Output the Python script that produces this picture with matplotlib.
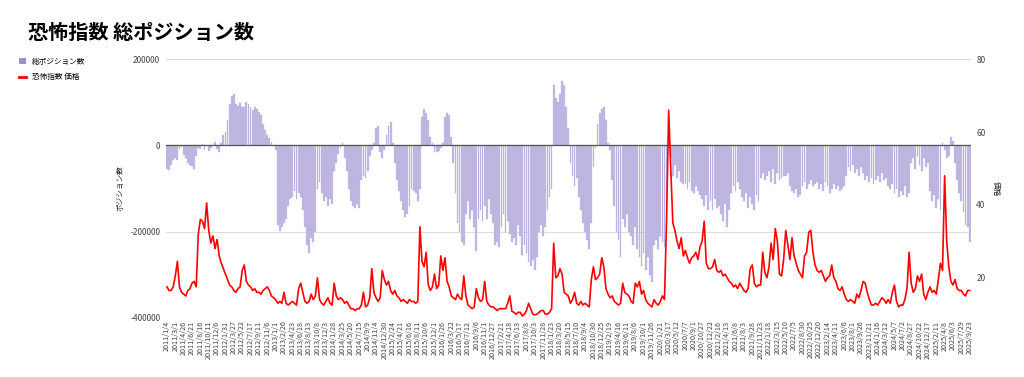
import matplotlib
matplotlib.use("Agg")  # No display
import matplotlib.pyplot as plt  # For plotting
from matplotlib.patches import Patch  # Legend square
from matplotlib.lines import Line2D  # Legend line
import numpy as np  # For positions

plt.rcParams["font.family"] = ["Noto Sans CJK JP", "DejaVu Sans"]  # Japanese text

# Bi-weekly samples, 2011/1/4 .. 2025/9/23 (4 samples per 8-week tick interval)
position_k = [  # 総ポジション数, in thousands of contracts
    -55, -57, -45, -33, -30, -35, -8, -3, -22, -30, -40, -45, -48, -54, -25, -5,
    -8, 3, -10, 2, -12, -5, 2, 8, -8, -15, 5, 25, 30, 60, 95, 115,
    120, 95, 92, 98, 90, 88, 100, 95, 88, 82, 90, 85, 78, 70, 50, 35,
    25, 18, 8, 2, -10, -185, -199, -190, -180, -170, -140, -125, -120, -105, -125, -110,
    -120, -150, -190, -230, -250, -215, -225, -200, -100, -85, -110, -130, -120, -140, -125, -135,
    -60, -40, -20, -5, 5, -30, -60, -100, -130, -140, -145, -135, -145, -80, -70, -75,
    -60, -25, -10, 5, 40, 45, -15, -30, -10, 25, 45, 55, 5, -40, -80, -105,
    -130, -150, -165, -160, -140, -100, -105, -110, -130, -100, 65, 84, 75, 60, 20, 5,
    -15, -15, -12, -5, 5, 65, 75, 70, 20, -40, -110, -180, -200, -225, -230, -160,
    -130, -170, -150, -190, -245, -170, -150, -175, -140, -170, -125, -160, -180, -230, -225, -235,
    -190, -160, -200, -175, -205, -225, -215, -230, -185, -210, -255, -230, -250, -270, -280, -265,
    -290, -260, -200, -185, -210, -190, -150, -120, -100, 140, 110, 100, 120, 150, 140, 90,
    40, -40, -70, -95, -75, -120, -150, -180, -200, -220, -240, -180, -50, -5, 50, 75,
    85, 90, 60, 5, -10, -80, -140, -200, -220, -260, -170, -190, -160, -200, -210, -230,
    -190, -240, -260, -280, -250, -290, -260, -300, -318, -230, -220, -240, -210, -225, -235, -150,
    -5, -30, -70, -45, -75, -60, -85, -90, -90, -100, -85, -105, -110, -95, -105, -115,
    -125, -140, -115, -150, -130, -150, -125, -145, -140, -160, -175, -135, -190, -150, -110, -95,
    -105, -85, -100, -120, -130, -110, -145, -120, -135, -150, -115, -130, -75, -65, -80, -70,
    -60, -85, -55, -90, -65, -80, -75, -70, -70, -65, -95, -105, -110, -100, -120, -115,
    -95, -85, -100, -90, -80, -95, -90, -85, -100, -90, -105, -85, -95, -110, -100, -90,
    -100, -95, -105, -100, -95, -70, -50, -60, -45, -65, -55, -70, -50, -65, -80, -70,
    -85, -75, -90, -80, -70, -85, -65, -80, -75, -95, -100, -90, -110, -100, -120, -105,
    -115, -95, -120, -110, -40, -30, -55, -25, -45, -60, -30, -50, -40, -105, -130, -115,
    -145, -125, -150, 5, -10, -30, -25, 20, 10, -40, -80, -110, -130, -155, -185, -190,
    -225,
]

vix_price = [  # 恐怖指数 価格
    17.5, 16.5, 16.5, 17.5, 20.5, 24.5, 17.5, 16.0, 15.5, 15.0, 16.5, 17.0, 18.5, 19.0, 17.5, 32.0,
    36.0, 35.5, 33.5, 40.5, 33.0, 29.5, 31.5, 28.0, 30.5, 26.0, 24.0, 22.5, 21.0, 19.5, 18.0, 17.5,
    16.5, 16.0, 17.0, 17.5, 22.0, 23.5, 19.0, 18.0, 17.5, 16.5, 17.0, 16.0, 16.0, 15.5, 16.5, 17.0,
    17.5, 16.5, 15.0, 14.5, 14.0, 13.0, 13.5, 13.0, 16.0, 13.0, 12.5, 13.0, 13.5, 13.0, 12.5, 17.0,
    18.5, 16.0, 13.5, 13.0, 13.5, 15.5, 14.0, 15.0, 20.0, 14.0, 13.0, 12.5, 13.5, 14.5, 13.0, 12.5,
    18.5, 15.0, 14.0, 14.5, 14.0, 13.0, 13.5, 12.5, 11.5, 11.5, 11.0, 11.5, 11.5, 12.5, 16.0, 12.0,
    12.5, 14.5, 22.5, 16.0, 14.5, 13.5, 14.5, 22.0, 19.5, 18.0, 19.0, 16.5, 15.5, 16.5, 15.0, 14.5,
    13.5, 14.0, 13.5, 13.0, 14.0, 13.5, 13.5, 13.0, 13.5, 34.0, 24.5, 23.0, 27.0, 18.0, 16.5, 17.5,
    21.0, 17.0, 18.0, 26.0, 22.0, 25.5, 19.0, 17.5, 15.0, 14.5, 14.0, 15.5, 14.5, 14.0, 20.5, 15.0,
    12.5, 12.0, 11.5, 12.0, 17.0, 14.5, 13.5, 14.0, 19.0, 13.5, 12.5, 12.0, 12.0, 11.5, 11.0, 11.5,
    11.5, 11.5, 11.5, 13.0, 15.0, 10.8, 10.5, 10.0, 10.5, 10.5, 9.5, 10.0, 11.0, 13.0, 11.5, 10.0,
    9.8, 10.0, 10.5, 11.0, 11.0, 10.0, 10.0, 10.5, 11.5, 29.5, 20.0, 20.5, 22.5, 21.0, 16.0, 15.5,
    15.0, 13.0, 14.0, 16.0, 13.0, 12.5, 13.5, 12.5, 13.0, 12.5, 12.0, 19.5, 23.0, 19.5, 20.0, 21.0,
    25.5, 23.0, 17.0, 15.5, 14.5, 15.0, 13.5, 13.0, 12.5, 13.0, 18.5, 16.0, 15.5, 15.0, 13.5, 13.0,
    18.5, 17.5, 19.0, 15.5, 16.5, 14.0, 13.0, 12.5, 12.0, 14.0, 13.0, 12.5, 13.5, 15.0, 14.0, 36.0,
    66.0, 50.0, 35.0, 33.0, 30.0, 28.0, 31.0, 26.0, 27.5, 25.5, 24.0, 25.5, 26.0, 27.0, 25.0, 28.5,
    30.0, 35.5, 24.0, 22.5, 22.5, 23.0, 25.0, 22.0, 21.5, 22.0, 20.5, 21.0, 20.0, 19.0, 18.5, 17.5,
    18.0, 17.0, 18.5, 17.5, 16.5, 16.0, 17.0, 22.5, 23.5, 18.5, 17.5, 18.0, 18.0, 27.0, 21.5, 20.0,
    23.0, 29.5, 25.0, 33.5, 30.0, 21.0, 20.5, 25.0, 33.0, 29.0, 25.0, 31.0, 26.0, 24.0, 22.0, 21.0,
    20.0, 26.0, 27.0, 32.5, 33.0, 27.0, 23.5, 22.0, 21.5, 22.0, 20.5, 19.0, 20.0, 20.5, 23.5, 20.0,
    19.0, 17.0, 16.5, 17.5, 15.5, 14.0, 13.5, 14.0, 13.5, 13.0, 15.5, 14.5, 16.5, 19.0, 18.5, 16.0,
    14.0, 12.5, 12.5, 13.0, 12.5, 13.5, 14.5, 14.0, 13.0, 14.0, 13.0, 16.0, 18.0, 13.5, 12.0, 12.5,
    12.5, 14.0, 17.0, 27.0, 18.5, 16.0, 17.0, 20.5, 19.0, 21.0, 15.5, 14.0, 16.0, 17.5, 16.0, 16.5,
    15.5, 19.5, 24.0, 22.0, 48.0, 30.0, 23.0, 19.0, 18.0, 19.5, 17.0, 16.5, 16.5, 15.5, 15.0, 16.5,
    16.5,
]

tick_labels = [
    "2011/1/4", "2011/3/1", "2011/4/26", "2011/6/21", "2011/8/16", "2011/10/11", "2011/12/6",
    "2012/1/31", "2012/3/27", "2012/5/22", "2012/7/17", "2012/9/11", "2012/11/6", "2013/1/1",
    "2013/2/26", "2013/4/23", "2013/6/18", "2013/8/13", "2013/10/8", "2013/12/3", "2014/1/28",
    "2014/3/25", "2014/5/20", "2014/7/15", "2014/9/9", "2014/11/4", "2014/12/30", "2015/2/24",
    "2015/4/21", "2015/6/16", "2015/8/11", "2015/10/6", "2015/12/1", "2016/1/26", "2016/3/22",
    "2016/5/17", "2016/7/12", "2016/9/6", "2016/11/1", "2016/12/27", "2017/2/21", "2017/4/18",
    "2017/6/13", "2017/8/8", "2017/10/3", "2017/11/28", "2018/1/23", "2018/3/20", "2018/5/15",
    "2018/7/10", "2018/9/4", "2018/10/30", "2018/12/25", "2019/2/19", "2019/4/16", "2019/6/11",
    "2019/8/6", "2019/10/1", "2019/11/26", "2020/1/21", "2020/3/17", "2020/5/12", "2020/7/7",
    "2020/9/1", "2020/10/27", "2020/12/22", "2021/2/16", "2021/4/13", "2021/6/8", "2021/8/3",
    "2021/9/28", "2021/11/23", "2022/1/18", "2022/3/15", "2022/5/10", "2022/7/5", "2022/8/30",
    "2022/10/25", "2022/12/20", "2023/2/14", "2023/4/11", "2023/6/6", "2023/8/1", "2023/9/26",
    "2023/11/21", "2024/1/16", "2024/3/12", "2024/5/7", "2024/7/2", "2024/8/27", "2024/10/22",
    "2024/12/17", "2025/2/11", "2025/4/8", "2025/6/3", "2025/7/29", "2025/9/23",
]

BAR_COLOR = "#c2bbe3"  # Lavender bars
BAR_EDGE = "#a79cd6"  # Slightly darker bar edges
LEGEND_BAR = "#9c90cf"  # Legend square
LINE_COLOR = "#ff0000"  # Red line
TICK_COLOR = "#444444"


def plot_chart(out_path):
    """Draw bars (left axis) and VIX line (right axis)."""
    n = min(len(position_k), len(vix_price))
    x = np.arange(n)
    positions = np.array(position_k[:n]) * 1000  # Back to contracts

    fig = plt.figure(figsize=(10.24, 3.77), dpi=100)
    ax = fig.add_axes([0.162, 0.157, 0.786, 0.686])
    ax2 = ax.twinx()

    # Bars on the left axis
    ax.bar(x, positions, width=0.85, color=BAR_COLOR, edgecolor=BAR_EDGE,
           linewidth=0.15, zorder=2)
    ax.axhline(0, color="#555555", linewidth=0.9, zorder=3)  # Baseline
    ax.set_ylim(-400000, 200000)
    ax.set_yticks([-400000, -200000, 0, 200000])
    ax.set_yticklabels(["-400000", "-200000", "0", "200000"])
    ax.grid(axis="y", color="#dddddd", linewidth=0.8, zorder=0)
    ax.set_xlim(-0.5, n - 0.5)
    ax.set_ylabel("ポジション数", fontsize=5.5, color="#222222", labelpad=4)

    # X ticks every 8 weeks (4 samples)
    ticks = np.arange(0, n, 4)[: len(tick_labels)]
    ax.set_xticks(ticks)
    ax.set_xticklabels(tick_labels[: len(ticks)], rotation=90, fontsize=5.2, color=TICK_COLOR)

    # Line on the right axis
    ax2.plot(x, vix_price[:n], color=LINE_COLOR, linewidth=1.2, zorder=4)
    ax2.set_ylim(9, 80)
    ax2.set_yticks([20, 40, 60, 80])
    ax2.set_ylabel("価格", fontsize=5.5, rotation=270, color="#222222", labelpad=10)

    for a in (ax, ax2):
        for s in a.spines.values():
            s.set_visible(False)
        a.tick_params(axis="both", length=0, labelsize=6, labelcolor=TICK_COLOR, pad=4)
    ax.tick_params(axis="x", labelsize=5.2, pad=2)

    # Title and legend
    fig.text(0.027, 0.915, "恐怖指数 総ポジション数", fontsize=14.5, fontweight="bold",
             ha="left", va="center")
    handles = [Patch(facecolor=LEGEND_BAR, edgecolor="none"),
               Line2D([0], [0], color=LINE_COLOR, linewidth=2)]
    fig.legend(handles, ["総ポジション数", "恐怖指数 価格"], loc="upper left",
               bbox_to_anchor=(0.012, 0.865), frameon=False, fontsize=5.5,
               handlelength=0.9, handleheight=0.9, handletextpad=0.8, labelspacing=1.0)

    fig.savefig(out_path, dpi=100)
    plt.close(fig)


def main():
    print(f"points: {len(position_k)} / {len(vix_price)}, ticks: {len(tick_labels)}")
    plot_chart("out.png")


if __name__ == "__main__":
    main()
